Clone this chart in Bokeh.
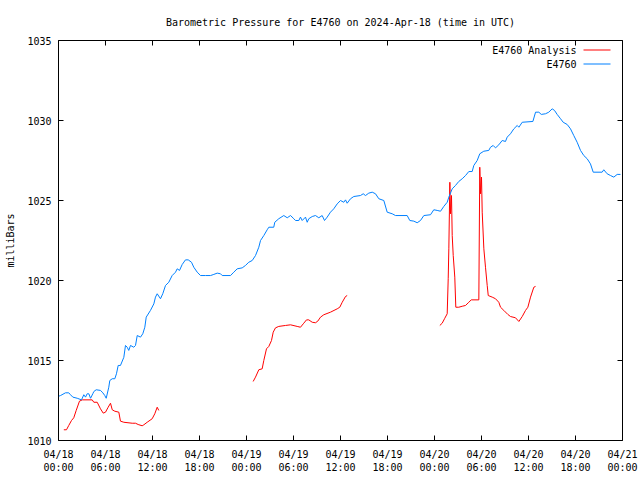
import math
from bokeh.plotting import figure
from bokeh.models import FixedTicker, LinearAxis, Label
from bokeh.embed import file_html
from bokeh.resources import INLINE

# Hours since 2024-04-18 00:00 UTC and pressure (mb) for station E4760
obs_hours = [0.04, 0.26, 0.89, 1.31, 1.53, 1.83, 2.39, 2.94, 3.23, 3.45, 3.66, 3.87, 4.09, 4.38, 4.51,
             4.81, 5.36, 5.66, 5.91, 6.09, 6.42, 6.55, 6.86, 7.19, 7.40, 7.62, 7.91, 8.34, 8.55, 8.77,
             8.97, 9.19, 9.61, 9.83, 10.05, 10.47, 10.76, 11.02, 11.20, 11.74, 12.17, 12.38, 12.60,
             13.02, 13.31, 13.66, 14.08, 14.51, 14.94, 15.15, 15.45, 15.79, 16.21, 16.56, 16.98,
             17.27, 17.71, 18.13, 18.77, 19.41, 19.83, 20.26, 20.68, 20.90, 21.96, 22.38, 22.81,
             23.45, 23.87, 24.29, 24.73, 25.15, 25.57, 25.79, 26.21, 26.64, 26.85, 27.48, 27.61,
             28.12, 28.76, 29.20, 29.62, 30.04, 30.26, 30.68, 30.89, 31.11, 31.53, 31.75, 31.95,
             32.39, 32.81, 33.23, 33.66, 33.96, 34.30, 34.72, 35.14, 35.58, 36.00, 36.42, 36.64,
             36.85, 37.28, 37.70, 38.55, 38.90, 39.19, 39.61, 40.05, 40.47, 40.89, 41.53, 41.96,
             42.60, 43.02, 44.51, 44.85, 45.36, 45.79, 46.21, 46.64, 47.49, 47.91, 48.34, 48.77,
             49.19, 49.62, 49.83, 50.26, 50.68, 51.10, 51.54, 51.96, 52.38, 52.81, 53.02, 53.45,
             53.78, 54.29, 54.93, 55.15, 55.49, 55.79, 56.21, 56.64, 57.06, 57.28, 57.70, 58.13,
             58.56, 58.77, 59.20, 60.56, 60.90, 61.32, 61.63, 62.17, 62.59, 63.02, 63.32, 63.66,
             64.09, 64.43, 64.94, 65.36, 65.78, 66.21, 66.64, 67.06, 67.49, 67.91, 68.26, 69.40,
             69.61, 70.04, 70.47, 70.89, 71.32, 71.74]
obs_pressure = [1012.77, 1012.81, 1012.98, 1012.98, 1012.86, 1012.71, 1012.64, 1012.54, 1012.86,
                1012.71, 1012.92, 1012.92, 1012.64, 1012.92, 1013.06, 1013.17, 1013.13, 1012.98,
                1012.81, 1012.64, 1013.33, 1013.75, 1013.86, 1013.86, 1014.17, 1014.69, 1014.69,
                1015.20, 1015.94, 1015.83, 1015.63, 1015.94, 1015.83, 1015.94, 1016.56, 1016.46,
                1016.67, 1017.08, 1017.71, 1018.13, 1018.54, 1018.96, 1019.17, 1018.86, 1019.17,
                1019.69, 1019.89, 1020.31, 1020.52, 1020.73, 1020.63, 1021.00, 1021.29, 1021.29,
                1021.14, 1020.83, 1020.52, 1020.31, 1020.31, 1020.31, 1020.38, 1020.46, 1020.42,
                1020.31, 1020.31, 1020.52, 1020.73, 1020.79, 1020.94, 1021.14, 1021.25, 1021.56,
                1022.08, 1022.50, 1022.81, 1023.17, 1023.33, 1023.33, 1023.64, 1023.86, 1024.06,
                1023.92, 1024.06, 1023.86, 1023.75, 1023.75, 1023.96, 1023.75, 1023.96, 1023.64,
                1023.86, 1024.00, 1024.06, 1023.92, 1024.06, 1023.75, 1023.96, 1024.27, 1024.48,
                1024.79, 1025.00, 1024.89, 1025.04, 1024.83, 1025.11, 1025.25, 1025.31, 1025.42,
                1025.31, 1025.46, 1025.52, 1025.42, 1025.11, 1025.00, 1024.27, 1024.17, 1024.06,
                1024.06, 1023.75, 1023.71, 1023.61, 1023.75, 1024.06, 1024.11, 1024.42, 1024.38,
                1024.33, 1024.63, 1024.89, 1025.21, 1025.73, 1025.94, 1026.19, 1026.36, 1026.56,
                1026.81, 1026.81, 1027.19, 1027.50, 1027.92, 1028.08, 1028.13, 1028.33, 1028.44,
                1028.29, 1028.48, 1028.75, 1028.69, 1028.96, 1029.17, 1029.48, 1029.69, 1029.58,
                1029.89, 1029.94, 1030.52, 1030.52, 1030.38, 1030.42, 1030.52, 1030.73, 1030.63,
                1030.38, 1030.11, 1029.89, 1029.75, 1029.48, 1029.06, 1028.64, 1028.13, 1027.81,
                1027.61, 1027.29, 1026.77, 1026.77, 1026.92, 1026.67, 1026.56, 1026.46, 1026.63,
                1026.63]

# Analysis series, three separate runs (gaps between them)
ana1_hours = [0.68, 1.02, 1.31, 1.66, 1.95, 2.26, 2.68, 3.03, 4.30, 4.51, 4.94, 5.36, 5.71, 6.00,
              6.34, 6.64, 6.86, 7.19, 7.70, 7.91, 8.34, 9.41, 9.83, 10.17, 10.68, 10.89, 11.32,
              11.96, 12.29, 12.60, 12.80]
ana1_pressure = [1010.67, 1010.67, 1010.94, 1011.25, 1011.42, 1011.88, 1012.46, 1012.54, 1012.54,
                 1012.39, 1012.39, 1011.98, 1011.71, 1011.77, 1012.08, 1012.33, 1011.92, 1011.83,
                 1011.77, 1011.21, 1011.14, 1011.08, 1011.08, 1011.00, 1010.92, 1010.98, 1011.14,
                 1011.36, 1011.67, 1012.08, 1011.88]
ana2_hours = [24.85, 25.15, 25.57, 26.00, 26.21, 26.55, 26.85, 27.19, 27.41, 27.70, 28.12, 28.98,
              29.62, 30.47, 30.89, 31.31, 31.66, 31.95, 32.39, 32.81, 33.10, 33.45, 33.87, 34.72,
              35.58, 35.91, 36.22, 36.64, 36.85]
ana2_pressure = [1013.69, 1013.96, 1014.42, 1014.48, 1015.00, 1015.73, 1015.88, 1016.25, 1016.77,
                 1017.04, 1017.13, 1017.19, 1017.23, 1017.13, 1017.08, 1017.33, 1017.54, 1017.54,
                 1017.39, 1017.36, 1017.46, 1017.71, 1017.86, 1018.02, 1018.23, 1018.33, 1018.64,
                 1019.00, 1019.06]
ana3_hours = [48.68, 48.98, 49.28, 49.62, 49.75, 49.83, 49.96, 50.04, 50.17, 50.26, 50.39, 50.59,
              50.72, 51.10, 51.54, 51.96, 52.38, 52.69, 53.66, 53.78, 53.88, 54.00, 54.09, 54.30,
              54.51, 54.73, 54.86, 55.37, 55.79, 56.21, 56.43, 56.85, 57.36, 57.70, 58.34, 58.77,
              59.20, 59.62, 59.92, 60.26, 60.68, 60.90]
ana3_pressure = [1017.19, 1017.33, 1017.61, 1017.92, 1020.11, 1021.98, 1026.14, 1024.17, 1025.31,
                 1022.81, 1021.56, 1020.21, 1018.33, 1018.33, 1018.39, 1018.44, 1018.64, 1018.79,
                 1018.79, 1027.08, 1025.42, 1026.46, 1024.27, 1021.98, 1020.83, 1019.69, 1019.06,
                 1018.96, 1018.86, 1018.64, 1018.33, 1018.13, 1017.88, 1017.75, 1017.67, 1017.44,
                 1017.75, 1018.13, 1018.33, 1018.96, 1019.58, 1019.63]

series_names = ["E4760 Analysis", "E4760"]
series_colors = ["#ff0000", "#0080ff"]
x_ticks = [0, 6, 12, 18, 24, 30, 36, 42, 48, 54, 60, 66, 72]
x_tick_labels = ["04/18\n00:00", "04/18\n06:00", "04/18\n12:00", "04/18\n18:00",
                 "04/19\n00:00", "04/19\n06:00", "04/19\n12:00", "04/19\n18:00",
                 "04/20\n00:00", "04/20\n06:00", "04/20\n12:00", "04/20\n18:00",
                 "04/21\n00:00"]
y_ticks = [1010, 1015, 1020, 1025, 1030, 1035]

FONT = "DejaVu Sans Mono"
FS = "10px"
X0, X1, Y0, Y1 = 0, 72, 1010, 1035
FRAME_W, FRAME_H = 564, 400

p = figure(width=640, height=480, output_backend="svg", toolbar_location=None,
           x_range=(X0, X1), y_range=(Y0, Y1),
           min_border_left=58, min_border_right=18, min_border_top=40, min_border_bottom=40,
           title="Barometric Pressure for E4760 on 2024-Apr-18 (time in UTC)")
p.title.align = "center"
p.title.text_font = FONT
p.title.text_font_size = FS
p.title.text_font_style = "normal"
p.title.text_color = "black"
p.title.standoff = 25

p.grid.visible = False
p.outline_line_color = "black"
p.outline_line_width = 1
p.background_fill_color = "white"
p.border_fill_color = "white"

nan = float("nan")
ana_x = ana1_hours + [nan] + ana2_hours + [nan] + ana3_hours
ana_y = ana1_pressure + [nan] + ana2_pressure + [nan] + ana3_pressure

p.line(ana_x, ana_y, line_color=series_colors[0], line_width=1)
p.line(obs_hours, obs_pressure, line_color=series_colors[1], line_width=1)

overrides_x = {t: lab for t, lab in zip(x_ticks, x_tick_labels)}


def style_axis(ax, show_labels):
    ax.axis_line_color = None
    ax.major_tick_in = 5
    ax.major_tick_out = 0
    ax.minor_tick_line_color = None
    ax.major_tick_line_color = "black"
    ax.major_label_text_font = FONT
    ax.major_label_text_font_size = FS
    ax.major_label_text_color = "black" if show_labels else None


xa = p.xaxis[0]
xa.ticker = FixedTicker(ticks=x_ticks)
xa.major_label_overrides = overrides_x
xa.major_label_standoff = 8
style_axis(xa, True)

ya = p.yaxis[0]
ya.ticker = FixedTicker(ticks=y_ticks)
ya.major_label_standoff = 7
ya.axis_label = "milliBars"
ya.axis_label_text_font = FONT
ya.axis_label_text_font_size = FS
ya.axis_label_text_font_style = "normal"
ya.axis_label_text_color = "black"
ya.axis_label_standoff = 8
style_axis(ya, True)

top = LinearAxis(ticker=FixedTicker(ticks=x_ticks))
style_axis(top, False)
top.major_label_text_font_size = "0px"
p.add_layout(top, "above")

right = LinearAxis(ticker=FixedTicker(ticks=y_ticks))
style_axis(right, False)
right.major_label_text_font_size = "0px"
p.add_layout(right, "right")

# gnuplot-style key in the top-right corner: name, then a 1px colour sample
px_per_x = (X1 - X0) / FRAME_W
px_per_y = (Y1 - Y0) / FRAME_H
for i, (name, col) in enumerate(zip(series_names, series_colors)):
    ky = Y1 - (9.5 + 14 * i) * px_per_y
    p.add_layout(Label(x=X1 - 46 * px_per_x, y=ky, text=name,
                       text_align="right", text_baseline="middle",
                       text_font=FONT, text_font_size=FS, text_color="black"))
    p.quad(left=[X1 - 39 * px_per_x], right=[X1 - 12 * px_per_x],
           bottom=[ky - 0.5 * px_per_y], top=[ky + 0.5 * px_per_y],
           fill_color=col, line_color=None)

open("out.html", "w").write(file_html(p, INLINE))
